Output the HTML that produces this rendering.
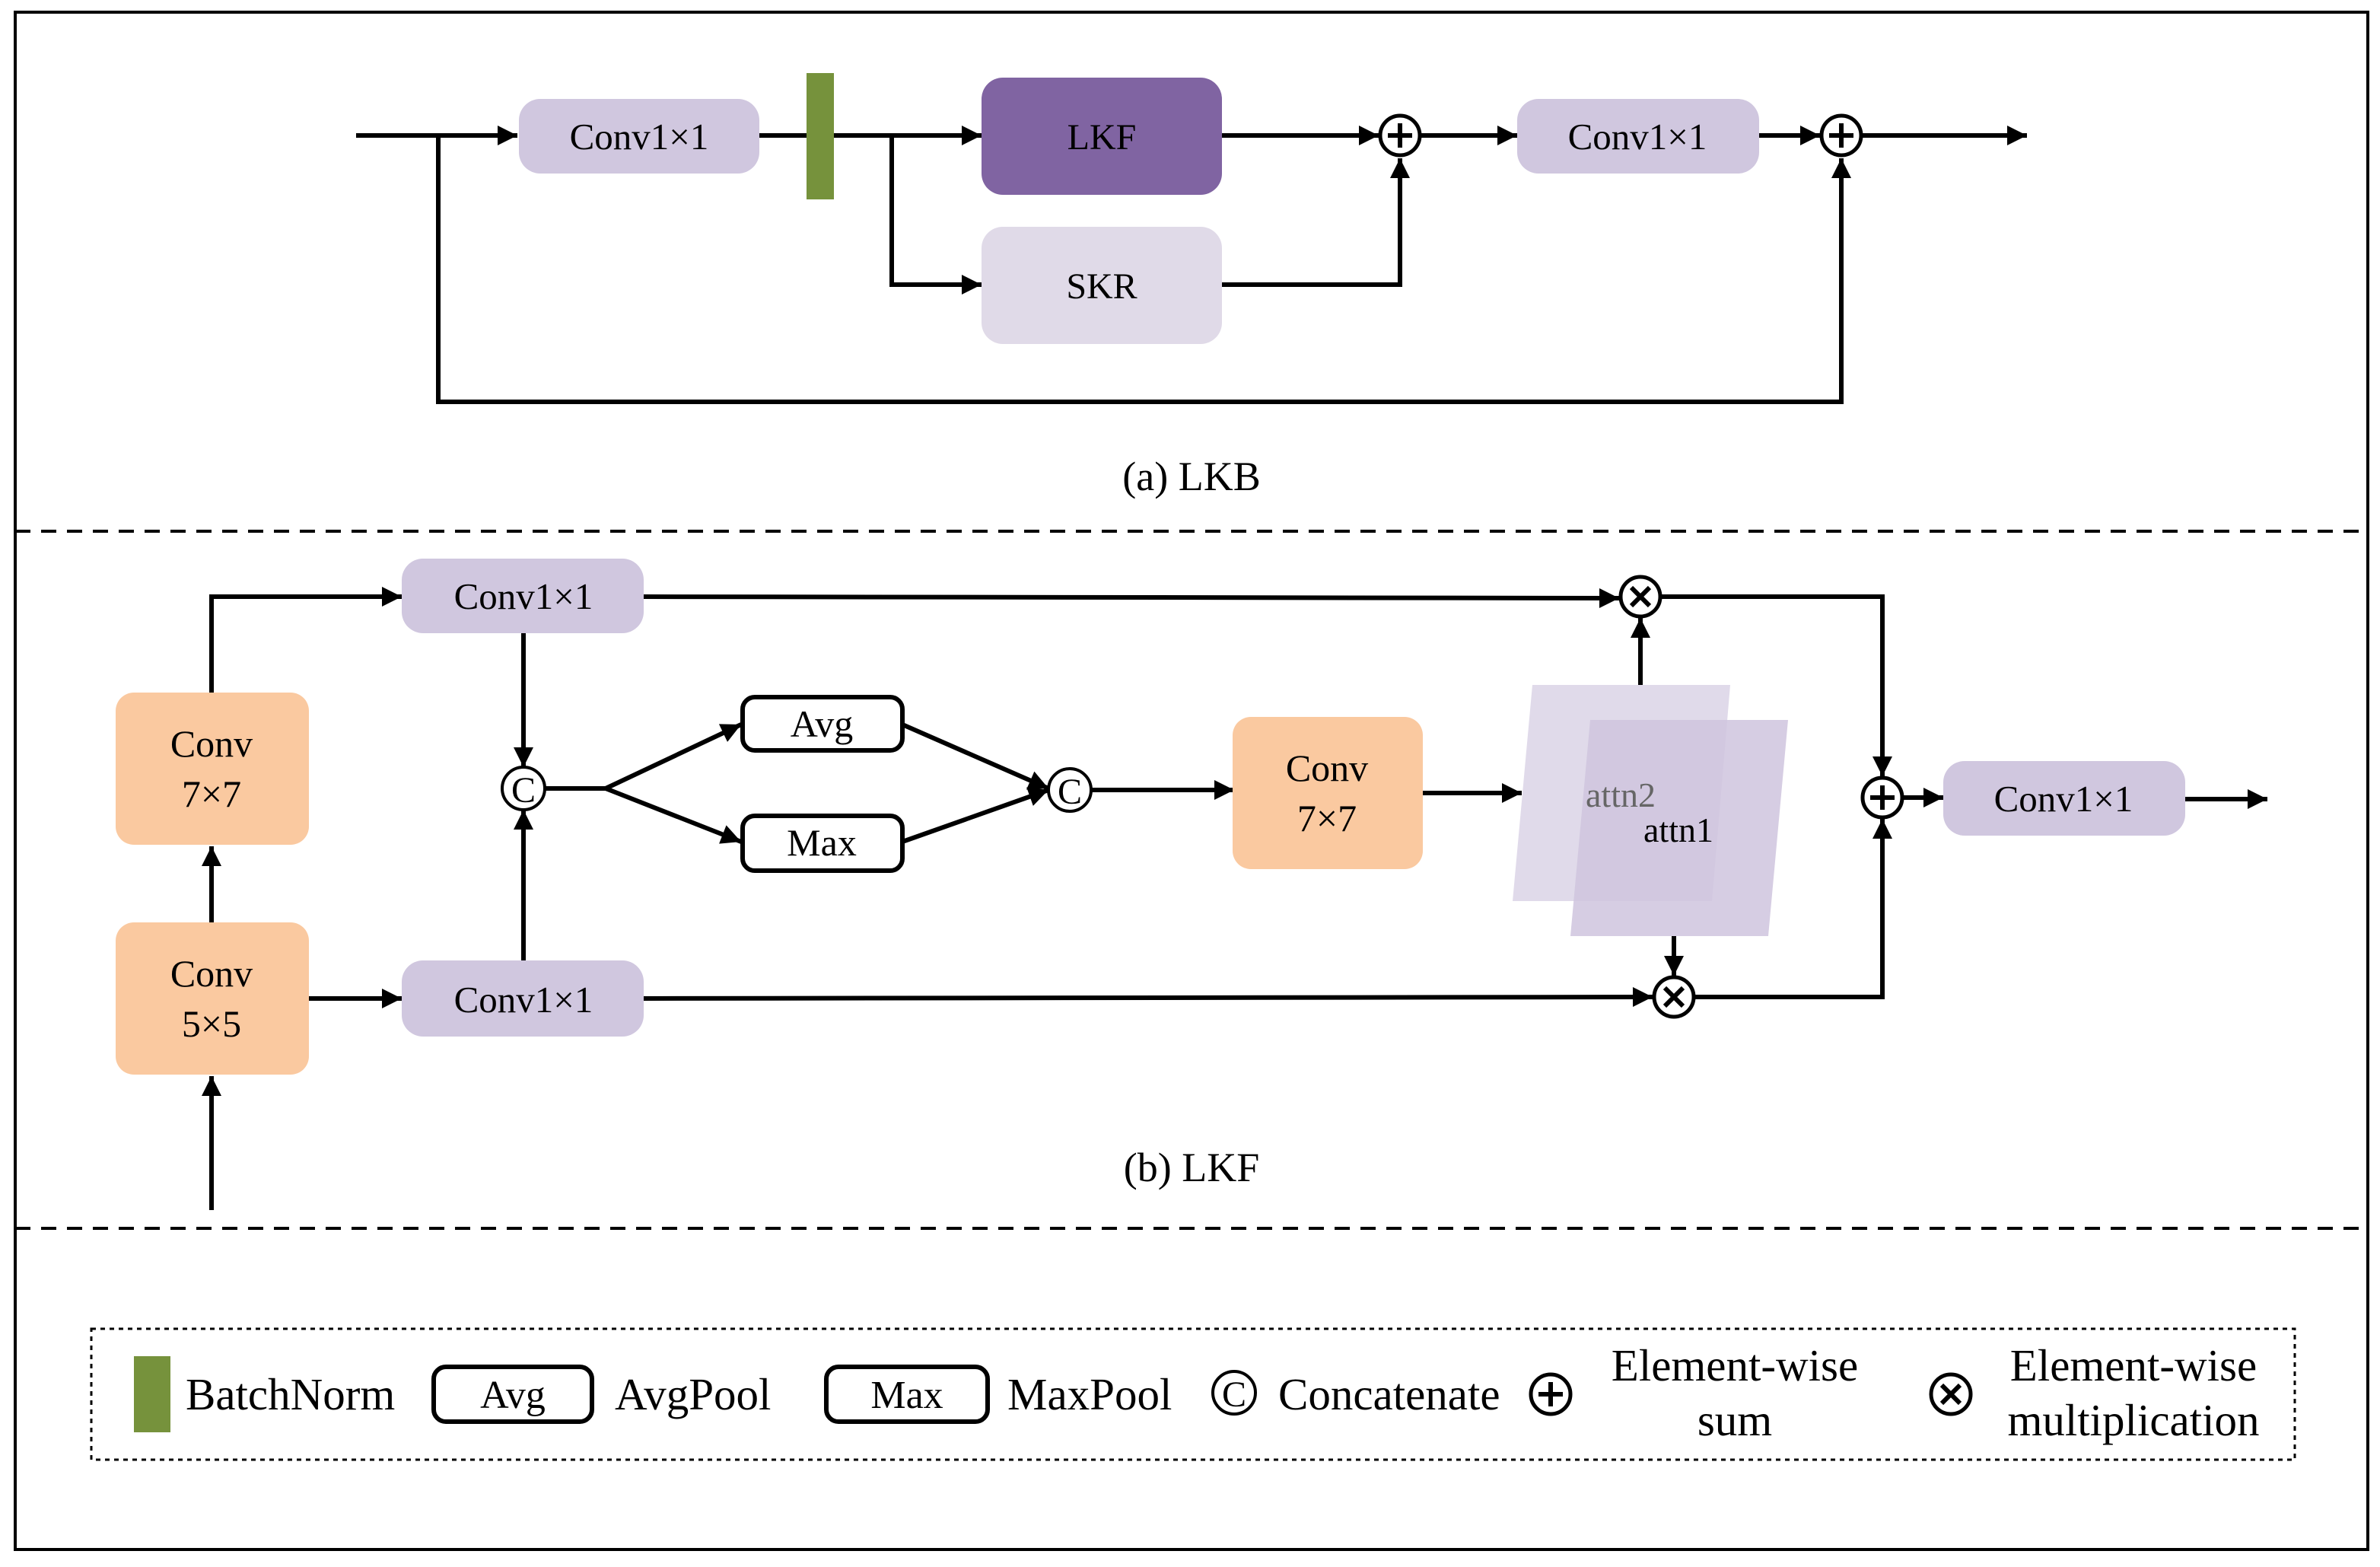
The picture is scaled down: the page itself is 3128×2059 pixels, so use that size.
<!DOCTYPE html>
<html><head><meta charset="utf-8"><style>html,body{margin:0;padding:0;background:#fff}svg{display:block}</style></head><body>
<svg width="3128" height="2059" viewBox="0 0 1564 1029.5" xmlns="http://www.w3.org/2000/svg" font-family="'Liberation Serif',serif">
<defs>
<marker id="ar" viewBox="0 0 10 10" markerWidth="16" markerHeight="13" refX="10" refY="5" orient="auto" markerUnits="userSpaceOnUse"><path d="M0,0 L10,5 L0,10 z" fill="#000"/></marker></defs>
<rect x="10" y="8" width="1546" height="1010" fill="none" stroke="#000" stroke-width="2"/>
<line x1="10" y1="349" x2="1556" y2="349" stroke="#000" stroke-width="2" stroke-dasharray="10,7"/>
<line x1="10" y1="807" x2="1556" y2="807" stroke="#000" stroke-width="2" stroke-dasharray="10,7"/>
<g stroke="#000" stroke-width="3" fill="none">
<line x1="234" y1="89" x2="340" y2="89" marker-end="url(#ar)"/>
<polyline points="288,89 288,264 1210,264 1210,104" marker-end="url(#ar)"/>
<line x1="499" y1="89" x2="530" y2="89"/>
<line x1="548" y1="89" x2="645" y2="89" marker-end="url(#ar)"/>
<polyline points="586,89 586,187 645,187" marker-end="url(#ar)"/>
<line x1="803" y1="89" x2="906" y2="89" marker-end="url(#ar)"/>
<polyline points="803,187 920,187 920,104" marker-end="url(#ar)"/>
<line x1="934" y1="89" x2="997" y2="89" marker-end="url(#ar)"/>
<line x1="1156" y1="89" x2="1196" y2="89" marker-end="url(#ar)"/>
<line x1="1224" y1="89" x2="1332" y2="89" marker-end="url(#ar)"/>
</g>
<rect x="341" y="65" width="158" height="49" rx="14" fill="#d0c7df"/>
<text x="420" y="98" font-size="24.5" text-anchor="middle">Conv1×1</text>
<rect x="530" y="48" width="18" height="83" fill="#76923c"/>
<rect x="645" y="51" width="158" height="77" rx="14" fill="#8064a2"/>
<text x="724" y="98" font-size="24" text-anchor="middle">LKF</text>
<rect x="645" y="149" width="158" height="77" rx="14" fill="#e0dae8"/>
<text x="724" y="196" font-size="24" text-anchor="middle">SKR</text>
<rect x="997" y="65" width="159" height="49" rx="14" fill="#d0c7df"/>
<text x="1076" y="98" font-size="24.5" text-anchor="middle">Conv1×1</text>
<g stroke="#000" stroke-width="2.5" fill="#fff"><circle cx="920" cy="89" r="13"/><circle cx="1210" cy="89" r="13"/></g>
<g stroke="#000" stroke-width="3"><path d="M912,89h16M920,81v16M1202,89h16M1210,81v16"/></g>
<text x="783" y="322" font-size="27" text-anchor="middle">(a) LKB</text>

<g stroke="#000" stroke-width="3" fill="none">
<line x1="139" y1="795" x2="139" y2="707" marker-end="url(#ar)"/>
<line x1="139" y1="606" x2="139" y2="556" marker-end="url(#ar)"/>
<polyline points="139,455 139,392 264,392" marker-end="url(#ar)"/>
<line x1="203" y1="656" x2="264" y2="656" marker-end="url(#ar)"/>
<line x1="344" y1="416" x2="344" y2="504" marker-end="url(#ar)"/>
<line x1="344" y1="631" x2="344" y2="532" marker-end="url(#ar)"/>
<line x1="358" y1="518" x2="398" y2="518"/>
<line x1="398" y1="518" x2="487" y2="476" marker-end="url(#ar)"/>
<line x1="398" y1="518" x2="487" y2="553" marker-end="url(#ar)"/>
<line x1="593" y1="476" x2="689" y2="518" marker-end="url(#ar)"/>
<line x1="593" y1="553" x2="689" y2="519" marker-end="url(#ar)"/>
<line x1="717" y1="519" x2="811" y2="519" marker-end="url(#ar)"/>
<line x1="935" y1="521" x2="1000" y2="521" marker-end="url(#ar)"/>
<line x1="423" y1="392" x2="1064" y2="393" marker-end="url(#ar)"/>
<line x1="423" y1="656" x2="1086" y2="655" marker-end="url(#ar)"/>
<polyline points="1091,392 1237,392 1237,510" marker-end="url(#ar)"/>
<polyline points="1113,655 1237,655 1237,538" marker-end="url(#ar)"/>
<line x1="1251" y1="524" x2="1277" y2="524" marker-end="url(#ar)"/>
<line x1="1436" y1="525" x2="1490" y2="525" marker-end="url(#ar)"/>
</g>
<rect x="76" y="455" width="127" height="100" rx="12" fill="#fac9a0"/>
<text x="139" y="497" font-size="25" text-anchor="middle">Conv</text><text x="139" y="530" font-size="25" text-anchor="middle">7×7</text>
<rect x="76" y="606" width="127" height="100" rx="12" fill="#fac9a0"/>
<text x="139" y="648" font-size="25" text-anchor="middle">Conv</text><text x="139" y="681" font-size="25" text-anchor="middle">5×5</text>
<rect x="264" y="367" width="159" height="49" rx="14" fill="#d0c7df"/>
<text x="344" y="400" font-size="24.5" text-anchor="middle">Conv1×1</text>
<rect x="264" y="631" width="159" height="50" rx="14" fill="#d0c7df"/>
<text x="344" y="665" font-size="24.5" text-anchor="middle">Conv1×1</text>
<rect x="488" y="458" width="105" height="35" rx="8" fill="#fff" stroke="#000" stroke-width="3"/>
<text x="540" y="484" font-size="25" text-anchor="middle">Avg</text>
<rect x="488" y="536" width="105" height="36" rx="8" fill="#fff" stroke="#000" stroke-width="3"/>
<text x="540" y="562" font-size="25" text-anchor="middle">Max</text>
<g stroke="#000" stroke-width="2" fill="#fff"><circle cx="344" cy="518" r="14"/><circle cx="703" cy="519" r="14"/></g>
<text x="344" y="527" font-size="24" text-anchor="middle">C</text>
<text x="703" y="528" font-size="24" text-anchor="middle">C</text>
<rect x="810" y="471" width="125" height="100" rx="12" fill="#fac9a0"/>
<text x="872" y="513" font-size="25" text-anchor="middle">Conv</text><text x="872" y="546" font-size="25" text-anchor="middle">7×7</text>
<polygon points="1007,450 1137,450 1125,592 994,592" fill="#ddd6e8" opacity="0.9"/>
<polygon points="1045,473 1175,473 1162,615 1032,615" fill="#cfc4de" opacity="0.85"/>
<text x="1065" y="530" font-size="23" text-anchor="middle" fill="#666">attn2</text>
<text x="1103" y="553" font-size="23" text-anchor="middle">attn1</text>
<g stroke="#000" stroke-width="3" fill="none">
<line x1="1078" y1="450" x2="1078" y2="406" marker-end="url(#ar)"/>
<line x1="1100" y1="615" x2="1100" y2="641" marker-end="url(#ar)"/>
</g>
<g stroke="#000" stroke-width="2.5" fill="#fff"><circle cx="1078" cy="392" r="13"/><circle cx="1100" cy="655" r="13"/><circle cx="1237" cy="524" r="13"/></g>
<g stroke="#000" stroke-width="3"><path d="M1072,386l12,12M1084,386l-12,12M1094,649l12,12M1106,649l-12,12M1229,524h16M1237,516v16"/></g>
<rect x="1277" y="500" width="159" height="49" rx="14" fill="#d0c7df"/>
<text x="1356" y="533" font-size="24.5" text-anchor="middle">Conv1×1</text>
<text x="783" y="776" font-size="27" text-anchor="middle">(b) LKF</text>

<rect x="60" y="873" width="1448" height="86" fill="none" stroke="#000" stroke-width="1.5" stroke-dasharray="3,3"/>
<rect x="88" y="891" width="24" height="50" fill="#76923c"/>
<text x="122" y="926" font-size="29.5">BatchNorm</text>
<rect x="285" y="898" width="104" height="36" rx="8" fill="#fff" stroke="#000" stroke-width="3"/>
<text x="337" y="925" font-size="26" text-anchor="middle">Avg</text>
<text x="404" y="926" font-size="29.5">AvgPool</text>
<rect x="543" y="898" width="106" height="36" rx="8" fill="#fff" stroke="#000" stroke-width="3"/>
<text x="596" y="925" font-size="26" text-anchor="middle">Max</text>
<text x="662" y="926" font-size="29.5">MaxPool</text>
<circle cx="811" cy="915" r="14" fill="#fff" stroke="#000" stroke-width="2"/>
<text x="811" y="924" font-size="24" text-anchor="middle">C</text>
<text x="840" y="926" font-size="29.5">Concatenate</text>
<circle cx="1019" cy="916" r="13" fill="#fff" stroke="#000" stroke-width="2.5"/>
<path d="M1011,916h16M1019,908v16" stroke="#000" stroke-width="3"/>
<text x="1140" y="907" font-size="29.5" text-anchor="middle">Element-wise</text>
<text x="1140" y="943" font-size="29.5" text-anchor="middle">sum</text>
<circle cx="1282" cy="916" r="13" fill="#fff" stroke="#000" stroke-width="2.5"/>
<path d="M1276,910l12,12M1288,910l-12,12" stroke="#000" stroke-width="3"/>
<text x="1402" y="907" font-size="29.5" text-anchor="middle">Element-wise</text>
<text x="1402" y="943" font-size="29.5" text-anchor="middle">multiplication</text>
</svg>
</body></html>
